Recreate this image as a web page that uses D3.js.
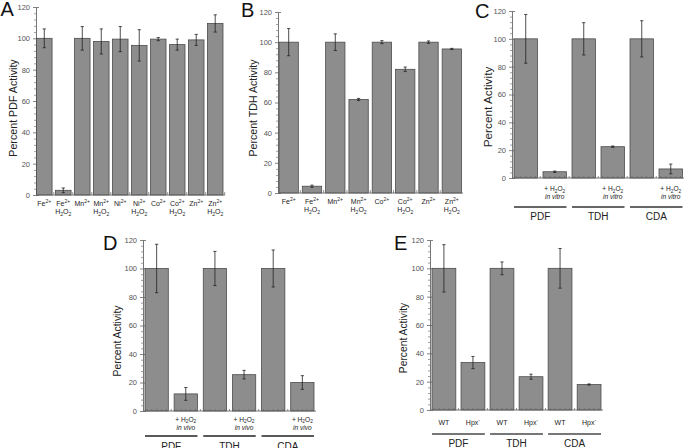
<!DOCTYPE html>
<html><head><meta charset="utf-8">
<script src="https://cdn.jsdelivr.net/npm/d3@7"></script>
<style>
body{margin:0;background:#fff}
svg{display:block;font-family:"Liberation Sans",Arial,Helvetica,sans-serif}
</style>
</head><body><svg id="c" width="685" height="448"></svg>
<script>
// ---------------- DATA ----------------
const yTicks = [0, 20, 40, 60, 80, 100, 120];

const categoriesA = ["Fe^{2+}", "Fe^{2+}|H_{2}O_{2}", "Mn^{2+}", "Mn^{2+}|H_{2}O_{2}", "Ni^{2+}", "Ni^{2+}|H_{2}O_{2}", "Co^{2+}", "Co^{2+}|H_{2}O_{2}", "Zn^{2+}", "Zn^{2+}|H_{2}O_{2}"];
const valuesA = [100, 3, 100, 98, 99.5, 95.5, 99.5, 96, 99, 109.5];
const errorsA = [6, 1.5, 7.5, 8, 8, 10, 1, 3.5, 3.5, 5.5];

const categoriesB = ["Fe^{2+}", "Fe^{2+}|H_{2}O_{2}", "Mn^{2+}", "Mn^{2+}|H_{2}O_{2}", "Co^{2+}", "Co^{2+}|H_{2}O_{2}", "Zn^{2+}", "Zn^{2+}|H_{2}O_{2}"];
const valuesB = [100, 4.5, 100, 62, 100, 82, 100, 95.5];
const errorsB = [9, 0.7, 5.5, 0.7, 1, 1.5, 0.8, 0.4];

const groups = ["PDF", "TDH", "CDA"];

const categoriesC = ["", "+ H_{2}O_{2}|in vitro", "", "+ H_{2}O_{2}|in vitro", "", "+ H_{2}O_{2}|in vitro"];
const valuesC = [100, 4.5, 100, 22.5, 100, 6.5];
const errorsC = [17.5, 0.5, 11.6, 0.5, 13, 3.5];

const categoriesD = ["", "+ H_{2}O_{2}|in vivo", "", "+ H_{2}O_{2}|in vivo", "", "+ H_{2}O_{2}|in vivo"];
const valuesD = [100, 12, 100, 25.5, 100, 20];
const errorsD = [17, 4.5, 12, 3, 13, 4.8];

const categoriesE = ["WT", "Hpx^{-}", "WT", "Hpx^{-}", "WT", "Hpx^{-}"];
const valuesE = [100, 33.5, 100, 23.5, 100, 18];
const errorsE = [16.7, 4.3, 4.5, 1.8, 14, 0.4];

// ---------------- DRAWING ----------------
const svg = d3.select("#c");

function rich(textSel, str, fs) {
  const parts = str.split(/(\^\{[^}]*\}|_\{[^}]*\})/).filter(s => s.length);
  let shift = 0;
  parts.forEach(p => {
    let t = p, size = fs, target = 0;
    if (p.startsWith("^{")) { t = p.slice(2, -1); target = -fs * 0.38; size = fs * 0.72; }
    else if (p.startsWith("_{")) { t = p.slice(2, -1); target = fs * 0.25; size = fs * 0.72; }
    textSel.append("tspan").attr("dy", target - shift).attr("font-size", size).text(t);
    shift = target;
  });
}

function drawPanel(cfg) {
  const g = svg.append("g");
  const n = cfg.values.length;
  const x = d3.scaleBand().domain(d3.range(n)).range([cfg.x0, cfg.x1]).paddingInner(cfg.pad).paddingOuter(0);
  const y = d3.scaleLinear().domain([0, 120]).range([cfg.yb, cfg.yt]);
  const ax = cfg.axisX, y0 = y(0);

  // y axis: major ticks (outside, labelled)
  const ya = g.append("g").attr("transform", `translate(${ax},0)`)
    .call(d3.axisLeft(y).tickValues(yTicks).tickSizeInner(3).tickSizeOuter(0).tickPadding(3));
  ya.select(".domain").attr("stroke", "#666").attr("stroke-width", 0.9);
  ya.selectAll(".tick line").attr("stroke", "#666").attr("stroke-width", 0.8);
  ya.selectAll(".tick text").attr("fill", "#555").attr("font-size", 7.5)
    .attr("font-family", '"Liberation Sans", Arial, sans-serif');
  // inside major ticks
  const yi = g.append("g").attr("transform", `translate(${ax},0)`)
    .call(d3.axisRight(y).tickValues(yTicks).tickSize(3).tickFormat(""));
  yi.select(".domain").remove();
  yi.selectAll(".tick line").attr("stroke", "#666").attr("stroke-width", 0.8);
  // minor ticks
  const ym = g.append("g").attr("transform", `translate(${ax},0)`)
    .call(d3.axisLeft(y).tickValues(d3.range(0, 121, 4).filter(v => v % 20)).tickSize(2).tickFormat(""));
  ym.select(".domain").remove();
  ym.selectAll(".tick line").attr("stroke", "#777").attr("stroke-width", 0.7);

  // bars
  g.selectAll("rect.bar").data(cfg.values).join("rect")
    .attr("class", "bar")
    .attr("x", (d, i) => x(i)).attr("width", x.bandwidth())
    .attr("y", d => y(d)).attr("height", d => y0 - y(d))
    .attr("fill", "#8d8d8d").attr("stroke", "#4d4d4d").attr("stroke-width", 0.8);

  // x axis line
  g.append("line").attr("x1", ax).attr("x2", cfg.axisEnd).attr("y1", y0).attr("y2", y0)
    .attr("stroke", "#666").attr("stroke-width", 0.9);
  // x minor ticks
  const step = x.step();
  let tickPos;
  if (cfg.fineTicks) {
    tickPos = d3.range(0, n * 6 + 1).map(k => x(0) + k * step / 6 - (step - x.bandwidth()) / 2);
  } else {
    tickPos = d3.range(0, n + 1).map(k => x(0) - (step - x.bandwidth()) / 2 + k * step);
  }
  g.selectAll("line.xt").data(tickPos.filter(p => p > ax && p <= cfg.axisEnd)).join("line")
    .attr("class", "xt")
    .attr("x1", d => d).attr("x2", d => d).attr("y1", y0).attr("y2", y0 - (cfg.fineTicks ? 2 : 3))
    .attr("stroke", "#666").attr("stroke-width", 0.7);

  // error bars
  const eg = g.append("g").attr("stroke", "#222").attr("stroke-width", 0.8);
  cfg.values.forEach((v, i) => {
    const cx = x(i) + x.bandwidth() / 2, e = cfg.errors[i];
    const yt = y(v + e), yb = y(v - e);
    eg.append("line").attr("x1", cx).attr("x2", cx).attr("y1", yt).attr("y2", yb);
    eg.append("line").attr("x1", cx - 1.6).attr("x2", cx + 1.6).attr("y1", yt).attr("y2", yt);
    eg.append("line").attr("x1", cx - 1.6).attr("x2", cx + 1.6).attr("y1", yb).attr("y2", yb);
  });

  // category labels
  cfg.categories.forEach((c, i) => {
    if (!c) return;
    const cx = x(i) + x.bandwidth() / 2;
    c.split("|").forEach((line, li) => {
      const t = g.append("text").attr("x", cx).attr("y", y0 + cfg.labelY[li])
        .attr("text-anchor", "middle").attr("fill", "#222").attr("font-size", cfg.labelFs);
      if (li === 1 && cfg.italic2) t.attr("font-style", "italic");
      rich(t, line, cfg.labelFs);
    });
  });

  // group lines + labels
  if (cfg.groups) {
    cfg.groups.forEach((gname, k) => {
      const a = x(2 * k), b = x(2 * k + 1) + x.bandwidth();
      g.append("line").attr("x1", a).attr("x2", b).attr("y1", y0 + cfg.groupLineY).attr("y2", y0 + cfg.groupLineY)
        .attr("stroke", cfg.groupLineColor).attr("stroke-width", cfg.groupLineW);
      g.append("text").attr("x", (a + b) / 2).attr("y", y0 + cfg.groupTextY)
        .attr("text-anchor", "middle").attr("font-size", cfg.groupFs).attr("fill", "#222").text(gname);
    });
  }

  // y label
  g.append("text").attr("transform", `translate(${cfg.ylab[0]},${cfg.ylab[1]}) rotate(-90)`)
    .attr("text-anchor", "middle").attr("dy", "0.36em").attr("font-size", cfg.ylabFs)
    .attr("fill", "#222").text(cfg.ylabel);

  // panel letter
  g.append("text").attr("x", cfg.letterPos[0]).attr("y", cfg.letterPos[1])
    .attr("font-size", 20).attr("fill", "#111").text(cfg.letter);
}

drawPanel({ letter: "A", letterPos: [0.5, 16], values: valuesA, errors: errorsA, categories: categoriesA,
  x0: 36.5, x1: 223, pad: 0.18, axisX: 36, axisEnd: 225, yb: 195, yt: 7,
  labelY: [10.5, 19], labelFs: 7, italic2: false,
  ylabel: "Percent PDF Activity", ylab: [13, 108], ylabFs: 10.7 });

drawPanel({ letter: "B", letterPos: [241, 17], values: valuesB, errors: errorsB, categories: categoriesB,
  x0: 279, x1: 461.5, pad: 0.17, axisX: 278, axisEnd: 463, yb: 193, yt: 12,
  labelY: [10.5, 19], labelFs: 7, italic2: false,
  ylabel: "Percent TDH Activity", ylab: [253, 108], ylabFs: 10.6 });

drawPanel({ letter: "C", letterPos: [475, 18], values: valuesC, errors: errorsC, categories: categoriesC,
  x0: 514, x1: 682.5, pad: 0.19, axisX: 512, axisEnd: 684, yb: 178, yt: 11,
  labelY: [13, 21], labelFs: 6.6, italic2: true, fineTicks: true,
  groups: groups, groupLineY: 29, groupLineColor: "#333", groupLineW: 1.3, groupTextY: 41.5, groupFs: 10,
  ylabel: "Percent Activity", ylab: [488, 107], ylabFs: 11.8 });

drawPanel({ letter: "D", letterPos: [103, 250], values: valuesD, errors: errorsD, categories: categoriesD,
  x0: 145, x1: 314, pad: 0.2, axisX: 143, axisEnd: 316, yb: 411, yt: 240,
  labelY: [10.5, 18.5], labelFs: 6.6, italic2: true, fineTicks: true,
  groups: groups, groupLineY: 25, groupLineColor: "#222", groupLineW: 1.3, groupTextY: 38.5, groupFs: 10,
  ylabel: "Percent Activity", ylab: [117, 341], ylabFs: 10.4 });

drawPanel({ letter: "E", letterPos: [394, 250], values: valuesE, errors: errorsE, categories: categoriesE,
  x0: 432, x1: 601, pad: 0.18, axisX: 430, axisEnd: 603, yb: 410, yt: 240,
  labelY: [14.5], labelFs: 7, italic2: false, fineTicks: true,
  groups: groups, groupLineY: 24, groupLineColor: "#777", groupLineW: 2, groupTextY: 37, groupFs: 10,
  ylabel: "Percent Activity", ylab: [403, 338], ylabFs: 10.3 });
</script>
</body></html>
